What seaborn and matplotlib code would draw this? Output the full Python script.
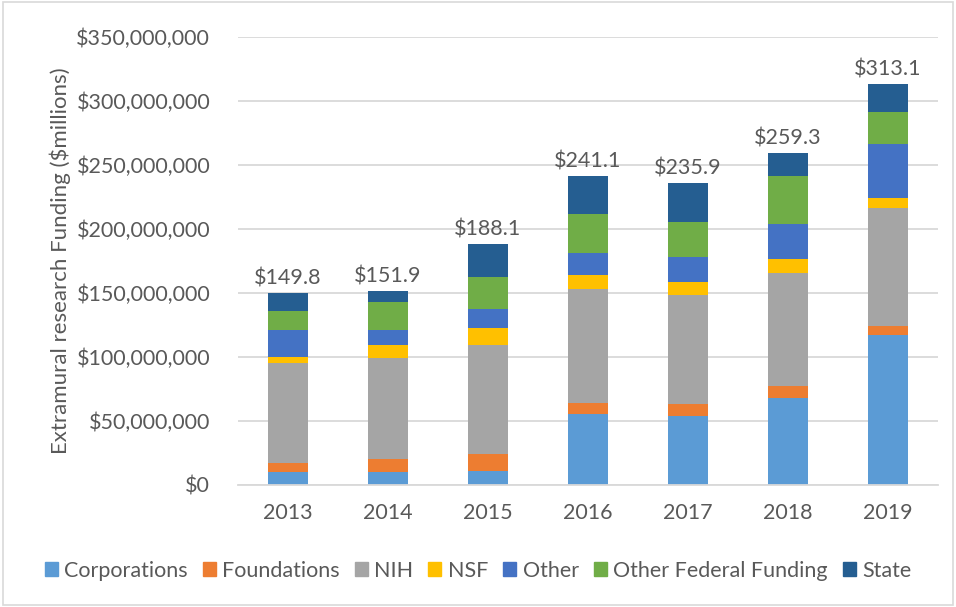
import matplotlib
matplotlib.use("Agg")
import matplotlib.pyplot as plt
import matplotlib.patches as mpatches
import matplotlib.ticker as mticker
import numpy as np
import seaborn as sns

years = ["2013", "2014", "2015", "2016", "2017", "2018", "2019"]
# values in $ millions
corporations = [10.2, 10.2, 11.2, 55.2, 54.1, 68.2, 117.4]
foundations = [7.0, 9.8, 13.0, 8.9, 9.2, 9.1, 7.1]
nih = [78.1, 79.2, 85.2, 89.3, 85.1, 88.0, 92.1]
nsf = [4.9, 10.4, 12.9, 10.9, 9.9, 11.3, 7.9]
other = [21.1, 11.7, 14.9, 17.2, 20.1, 27.0, 41.9]
other_federal = [14.9, 21.9, 25.4, 29.9, 27.1, 37.8, 24.9]
state = [13.6, 8.7, 25.5, 29.7, 30.4, 17.9, 21.8]
totals = [149.8, 151.9, 188.1, 241.1, 235.9, 259.3, 313.1]

series = [
    ("Corporations", corporations, "#5b9bd5"),
    ("Foundations", foundations, "#ed7d31"),
    ("NIH", nih, "#a5a5a5"),
    ("NSF", nsf, "#ffc000"),
    ("Other", other, "#4472c4"),
    ("Other Federal Funding", other_federal, "#70ad47"),
    ("State", state, "#255e91"),
]

sns.set_style("white")
plt.rcParams["font.family"] = ["Lato", "DejaVu Sans"]
txt = "#595959"

fig = plt.figure(figsize=(9.56, 6.07), dpi=100)
ax = fig.add_axes([0.249, 0.201, 0.732, 0.738])

bottom = np.zeros(len(years))
handles = []
for name, vals, col in series:
    v = np.array(vals) * 1e6
    sns.barplot(x=years, y=v, bottom=bottom, color=col, width=0.4,
                ax=ax, edgecolor="none", linewidth=0, saturation=1)
    bottom += v
    handles.append(mpatches.Patch(color=col, label=name))

for i, t in enumerate(totals):
    ax.text(i, t * 1e6 + 3.5e6, f"${t:.1f}", ha="center", va="bottom",
            fontsize=15.5, color=txt)

ax.set_ylim(0, 350e6)
ax.set_xlim(-0.5, 6.5)
ax.yaxis.set_major_locator(mticker.MultipleLocator(50e6))
ax.yaxis.set_major_formatter(mticker.FuncFormatter(lambda v, p: f"${v:,.0f}"))
ax.grid(axis="y", color="#d9d9d9", linewidth=1.3)
ax.set_axisbelow(True)
for s in ["top", "right", "left"]:
    ax.spines[s].set_visible(False)
ax.spines["bottom"].set_color("#d9d9d9")
ax.spines["bottom"].set_linewidth(1.3)
ax.tick_params(axis="both", length=0, labelsize=15.5, colors=txt)
ax.tick_params(axis="x", pad=13)
ax.tick_params(axis="y", pad=20)
ax.set_xlabel("")
ax.set_ylabel("Extramural research Funding ($millions)", fontsize=16, color=txt, labelpad=4)

fig.legend(handles=handles, loc="center", bbox_to_anchor=(0.5, 0.06), ncol=7,
           frameon=False, fontsize=15.5, handlelength=0.6, handleheight=0.6,
           handletextpad=0.3, columnspacing=0.7, labelcolor=txt)

fig.patches.append(mpatches.Rectangle((0.003, 0.003), 0.994, 0.994, transform=fig.transFigure,
                                      fill=False, edgecolor="#d9d9d9", linewidth=1.2))

fig.savefig("out.png", dpi=100)
